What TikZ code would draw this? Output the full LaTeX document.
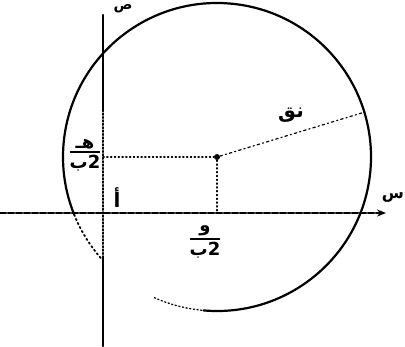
\documentclass[tikz,border=0pt]{standalone}
\usepackage{amsmath}
\usepackage{fontspec}
\newfontfamily\ar[Script=Arabic]{DejaVu Sans}
\TeXXeTstate=1
\usetikzlibrary{arrows.meta}
\begin{document}
\begin{tikzpicture}[x=1pt,y=-1pt,line cap=round]
\tikzset{
  ax/.style={line width=2.2pt},
  axdot/.style={line width=2pt,dash pattern=on 1.4pt off 2pt},
  axdash/.style={line width=2.2pt,dash pattern=on 6pt off 2pt},
  circ/.style={line width=2.2pt},
  circdot/.style={line width=1.8pt,dash pattern=on 1.5pt off 3pt},
  circfaint/.style={line width=1.3pt,dash pattern=on 1.2pt off 2.5pt},
  guide/.style={line width=1.2pt,dash pattern=on 1.2pt off 2.6pt},
  rad/.style={line width=1.2pt,dash pattern=on 2.5pt off 3pt on 1.2pt off 3pt},
  lab/.style={font=\ar\bfseries\fontsize{20}{20}\selectfont,inner sep=0pt},
  frac/.style={font=\ar\bfseries\fontsize{18}{18}\selectfont,inner sep=0pt},
}
\useasboundingbox (0,0) rectangle (405,346);
% key points
\coordinate (C) at (217,157);
\coordinate (yt) at (103,15);
\coordinate (ya) at (103,110);
\coordinate (yc) at (103,258);
\coordinate (yb) at (103,346);
\coordinate (xl) at (0,213);
\coordinate (xr) at (386,213);
\coordinate (H) at (103,157);
\coordinate (W) at (217,213);
\coordinate (R) at (365,112);
% circle
\begin{scope}[shift={(C)},x=1pt,y=1pt]
  \draw[circ] (-95:154) arc[start angle=-95,end angle=202,radius=154];
  \draw[circdot] (202:154) arc[start angle=202,end angle=222,radius=154];
  \draw[circfaint] (246:154) arc[start angle=246,end angle=265,radius=154];
\end{scope}
% axes
\draw[ax] (yt) -- (ya);
\draw[axdot] (ya) -- (yc);
\draw[ax] (yc) -- (yb);
\draw[axdash,-{Stealth[length=9pt,width=7pt]}] (xl) -- (xr);
% centre and guides
\node[circle,fill,inner sep=0pt,minimum size=6pt] (c) at (C) {};
\draw[guide] (H) -- (c);
\draw[guide] (c) -- (W);
\draw[rad] (c) -- (R);
% labels
\node[lab,font=\ar\bfseries\fontsize{14}{14}\selectfont] (ls) at (123,9) {ص};
\node[lab,font=\ar\bfseries\fontsize{16}{16}\selectfont] (lx) at (393,198) {س};
\node[lab] (lr) at (291,115) {\beginR نق\endR};
\node[lab] (la) at (117,198) {أ};
\node[frac] (lh) at (85,155)
  {$\genfrac{}{}{2pt}{1}{\hbox{\ar\bfseries هـ}}{\hbox{\ar\bfseries\beginR 2ب\endR}}$};
\node[frac] (lw) at (205,242)
  {$\genfrac{}{}{2pt}{1}{\hbox{\ar\bfseries و}}{\hbox{\ar\bfseries\beginR 2ب\endR}}$};
\end{tikzpicture}
\end{document}
